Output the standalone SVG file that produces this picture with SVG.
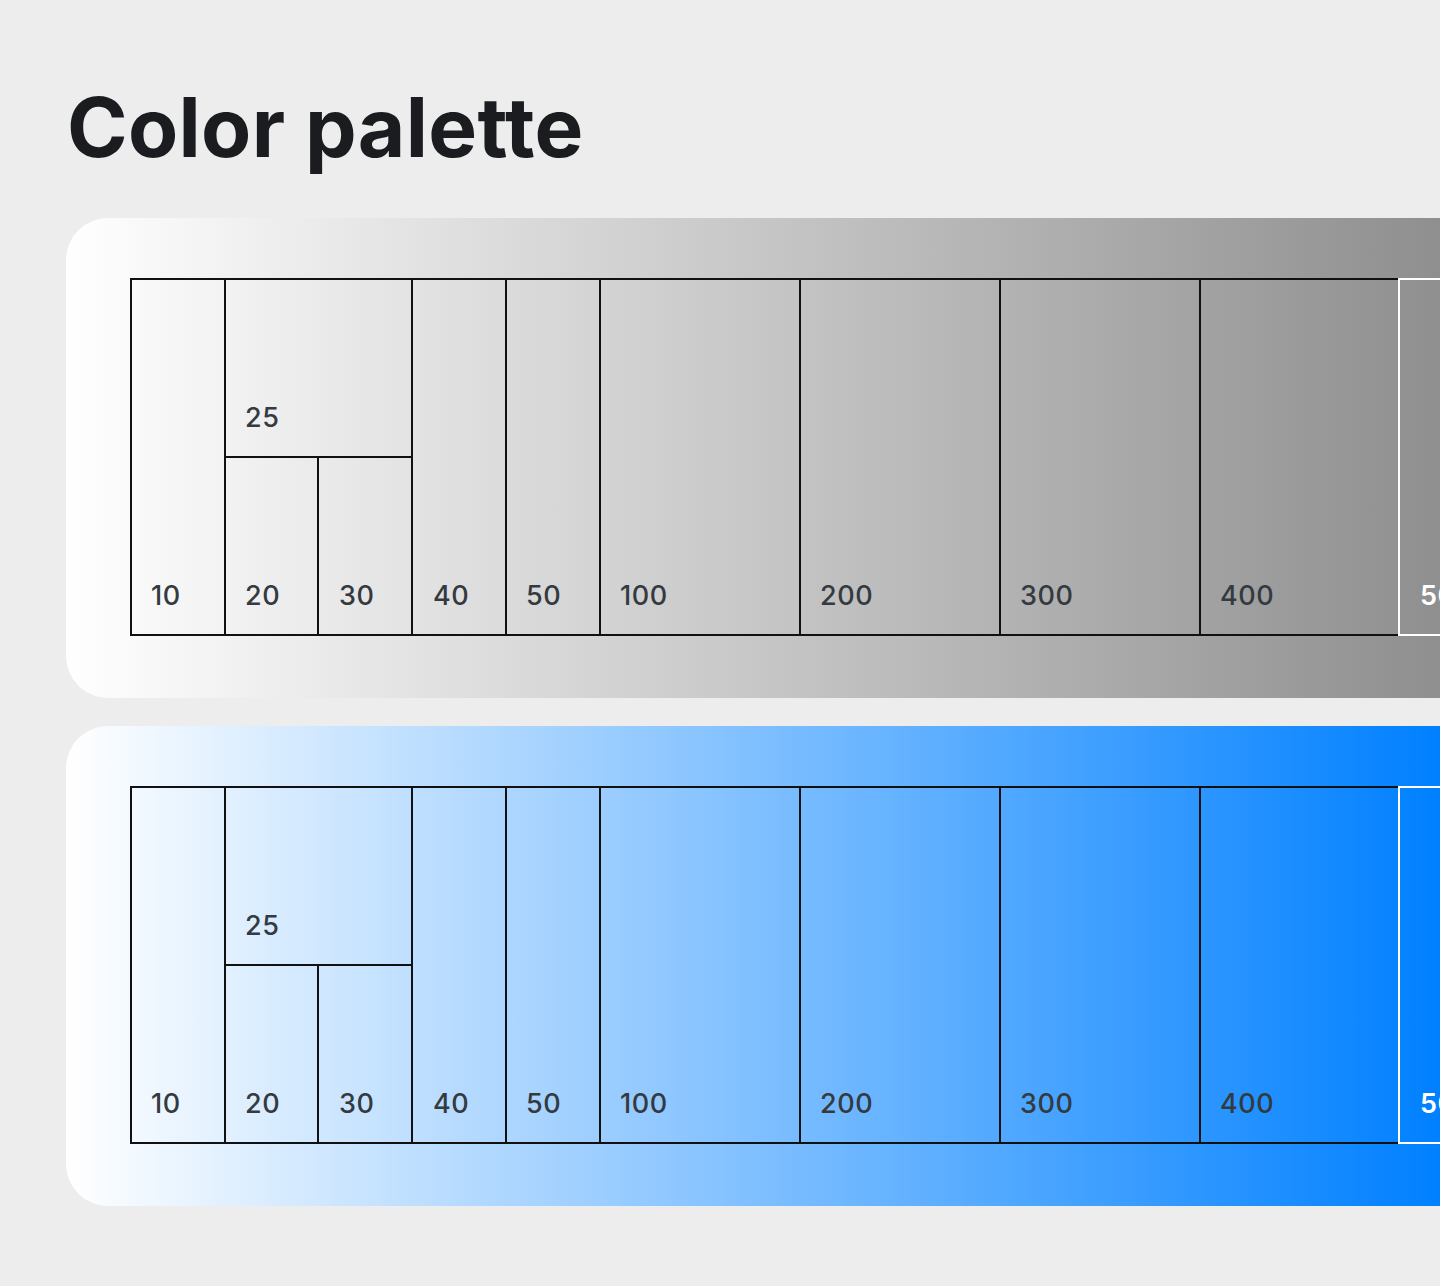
<svg xmlns="http://www.w3.org/2000/svg" width="1440" height="1286" viewBox="0 0 1440 1286">
  <defs>
    <linearGradient id="gGray" gradientUnits="userSpaceOnUse" x1="66" y1="0" x2="1440" y2="0">
      <stop offset="0" stop-color="#ffffff"/>
      <stop offset="1" stop-color="#8f8f8f"/>
    </linearGradient>
    <linearGradient id="gBlue" gradientUnits="userSpaceOnUse" x1="66" y1="0" x2="1440" y2="0">
      <stop offset="0" stop-color="#ffffff"/>
      <stop offset="1" stop-color="#0080ff"/>
    </linearGradient>
  </defs>
  <style>
    .cell { fill: none; stroke: #111111; stroke-width: 2; }
    .cellw { fill: none; stroke: #ffffff; stroke-width: 2; }
    .lbl { font-family: Inter, "Liberation Sans", sans-serif; font-size: 27px; font-weight: 500; letter-spacing: 0.6px; fill: #343a40; }
    .lblw { font-family: Inter, "Liberation Sans", sans-serif; font-size: 27px; font-weight: 600; letter-spacing: 0.6px; fill: #ffffff; }
    .title { font-family: Inter, "Liberation Sans", sans-serif; font-size: 82px; font-weight: 700; letter-spacing: 0.3px; fill: #1b1c20; }
  </style>
  <rect x="0" y="0" width="1440" height="1286" fill="#ededed"/>
  <text class="title" x="67" y="157">Color palette</text>

  <g id="card-gray">
    <rect x="66" y="218" width="1460" height="480" rx="42" fill="url(#gGray)"/>
    <g id="gray-10"><rect class="cell" x="131" y="279" width="94" height="356"/><text class="lbl" x="151" y="605">10</text></g>
    <g id="gray-25"><rect class="cell" x="225" y="279" width="187" height="178"/><text class="lbl" x="245" y="427">25</text></g>
    <g id="gray-20"><rect class="cell" x="225" y="457" width="93" height="178"/><text class="lbl" x="245" y="605">20</text></g>
    <g id="gray-30"><rect class="cell" x="318" y="457" width="94" height="178"/><text class="lbl" x="339" y="605">30</text></g>
    <g id="gray-40"><rect class="cell" x="412" y="279" width="94" height="356"/><text class="lbl" x="433" y="605">40</text></g>
    <g id="gray-50"><rect class="cell" x="506" y="279" width="94" height="356"/><text class="lbl" x="526" y="605">50</text></g>
    <g id="gray-100"><rect class="cell" x="600" y="279" width="200" height="356"/><text class="lbl" x="620" y="605">100</text></g>
    <g id="gray-200"><rect class="cell" x="800" y="279" width="200" height="356"/><text class="lbl" x="820" y="605">200</text></g>
    <g id="gray-300"><rect class="cell" x="1000" y="279" width="200" height="356"/><text class="lbl" x="1020" y="605">300</text></g>
    <g id="gray-400"><rect class="cell" x="1200" y="279" width="199" height="356"/><text class="lbl" x="1220" y="605">400</text></g>
    <g id="gray-500"><rect class="cellw" x="1399" y="279" width="200" height="356"/><text class="lblw" x="1420" y="605">500</text></g>
  </g>

  <g id="card-blue">
    <rect x="66" y="726" width="1460" height="480" rx="42" fill="url(#gBlue)"/>
    <g id="blue-10"><rect class="cell" x="131" y="787" width="94" height="356"/><text class="lbl" x="151" y="1113">10</text></g>
    <g id="blue-25"><rect class="cell" x="225" y="787" width="187" height="178"/><text class="lbl" x="245" y="935">25</text></g>
    <g id="blue-20"><rect class="cell" x="225" y="965" width="93" height="178"/><text class="lbl" x="245" y="1113">20</text></g>
    <g id="blue-30"><rect class="cell" x="318" y="965" width="94" height="178"/><text class="lbl" x="339" y="1113">30</text></g>
    <g id="blue-40"><rect class="cell" x="412" y="787" width="94" height="356"/><text class="lbl" x="433" y="1113">40</text></g>
    <g id="blue-50"><rect class="cell" x="506" y="787" width="94" height="356"/><text class="lbl" x="526" y="1113">50</text></g>
    <g id="blue-100"><rect class="cell" x="600" y="787" width="200" height="356"/><text class="lbl" x="620" y="1113">100</text></g>
    <g id="blue-200"><rect class="cell" x="800" y="787" width="200" height="356"/><text class="lbl" x="820" y="1113">200</text></g>
    <g id="blue-300"><rect class="cell" x="1000" y="787" width="200" height="356"/><text class="lbl" x="1020" y="1113">300</text></g>
    <g id="blue-400"><rect class="cell" x="1200" y="787" width="199" height="356"/><text class="lbl" x="1220" y="1113">400</text></g>
    <g id="blue-500"><rect class="cellw" x="1399" y="787" width="200" height="356"/><text class="lblw" x="1420" y="1113">500</text></g>
  </g>
</svg>
